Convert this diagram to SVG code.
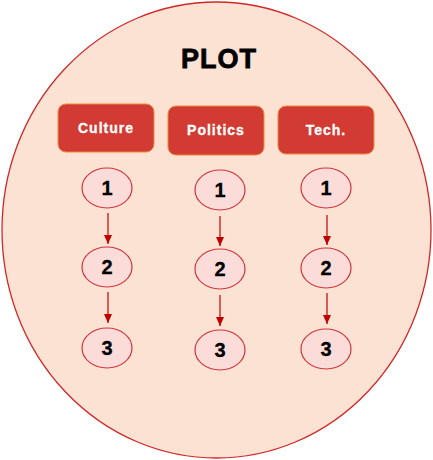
<svg xmlns="http://www.w3.org/2000/svg" width="433" height="460" viewBox="0 0 433 460">
<defs>
<style>
.hdr{fill:#D13B33;stroke:#F0883C;stroke-width:1}
.hdrt{font-family:"Liberation Sans",Arial,sans-serif;font-weight:bold;font-size:14px;fill:#fff;text-anchor:middle;letter-spacing:1px;stroke:#fff;stroke-width:0.3}
.node{fill:#FCDCD8;stroke:#D0343A;stroke-width:1.2}
.num{font-family:"Liberation Sans",Arial,sans-serif;font-weight:bold;font-size:20px;fill:#000;text-anchor:middle;stroke:#000;stroke-width:0.3}
.conn{stroke:#C00000;stroke-width:1.2;fill:none}
</style>
<marker id="ah" markerWidth="10" markerHeight="10" refX="9" refY="5" orient="auto" markerUnits="userSpaceOnUse">
<path d="M0,1 L9,5 L0,9 Z" fill="#C00000"/>
</marker>
</defs>
<g id="plot">
<ellipse cx="216.5" cy="230" rx="214.5" ry="228" fill="#FCE2D2" stroke="#D02828" stroke-width="1.3"/>
<text x="219" y="68" font-family="'Liberation Sans',Arial,sans-serif" font-weight="900" font-size="27" text-anchor="middle" fill="#000" stroke="#000" stroke-width="0.8" letter-spacing="1">PLOT</text>
</g>
<g id="h-culture"><rect class="hdr" x="58" y="104" width="96" height="48" rx="8"/><text class="hdrt" x="106" y="133">Culture</text></g>
<g id="h-politics"><rect class="hdr" x="168" y="106" width="96" height="49" rx="8"/><text class="hdrt" x="216" y="135">Politics</text></g>
<g id="h-tech"><rect class="hdr" x="278" y="106" width="96" height="48" rx="8"/><text class="hdrt" x="326" y="135">Tech.</text></g>
<g id="c1"><ellipse class="node" cx="107" cy="188" rx="25" ry="20"/><text class="num" x="107" y="195">1</text></g>
<g id="c2"><ellipse class="node" cx="107" cy="267" rx="25" ry="20"/><text class="num" x="107" y="274">2</text></g>
<g id="c3"><ellipse class="node" cx="107" cy="348" rx="25" ry="20"/><text class="num" x="107" y="355">3</text></g>
<g id="p1"><ellipse class="node" cx="220" cy="190" rx="25" ry="20"/><text class="num" x="220" y="197">1</text></g>
<g id="p2"><ellipse class="node" cx="220" cy="269" rx="25" ry="20"/><text class="num" x="220" y="276">2</text></g>
<g id="p3"><ellipse class="node" cx="220" cy="350" rx="25" ry="20"/><text class="num" x="220" y="357">3</text></g>
<g id="t1"><ellipse class="node" cx="326" cy="188" rx="25" ry="20"/><text class="num" x="326" y="195">1</text></g>
<g id="t2"><ellipse class="node" cx="326" cy="268" rx="25" ry="20"/><text class="num" x="326" y="275">2</text></g>
<g id="t3"><ellipse class="node" cx="326" cy="349" rx="25" ry="20"/><text class="num" x="326" y="356">3</text></g>
<g id="connectors">
<line class="conn" x1="108" y1="213" x2="108" y2="244" marker-end="url(#ah)"/>
<line class="conn" x1="108" y1="292" x2="108" y2="323" marker-end="url(#ah)"/>
<line class="conn" x1="220" y1="216" x2="220" y2="246" marker-end="url(#ah)"/>
<line class="conn" x1="220" y1="295" x2="220" y2="326" marker-end="url(#ah)"/>
<line class="conn" x1="327" y1="215" x2="327" y2="245" marker-end="url(#ah)"/>
<line class="conn" x1="327" y1="293" x2="327" y2="324" marker-end="url(#ah)"/>
</g>
</svg>
